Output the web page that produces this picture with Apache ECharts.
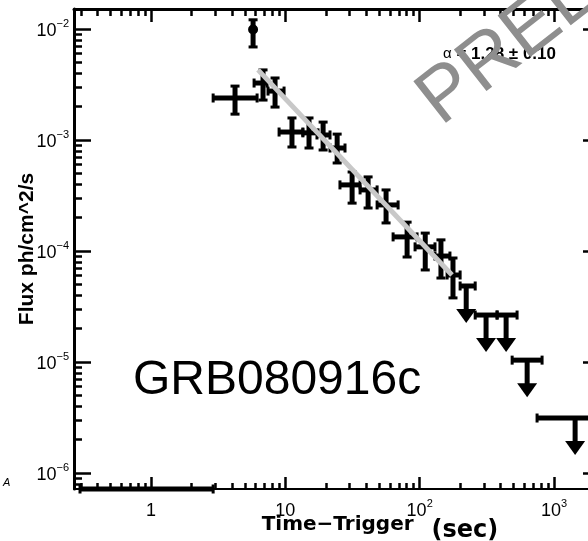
<!DOCTYPE html>
<html>
<head>
<meta charset="utf-8">
<script src="https://cdn.jsdelivr.net/npm/echarts@6/dist/echarts.min.js"></script>
<style>
  html, body { margin: 0; padding: 0; background: #fff; }
  #chart { width: 588px; height: 541px; }
</style>
</head>
<body>
<div id="chart"></div>
<script>
// Detected bins: time since trigger (s) with bin edges, flux (ph/cm^2/s) with 1-sigma range
const detT   = [4.22, 6.82, 8.38, 11.2, 15.0, 19.1, 24.3, 31.4, 41.3, 56.2, 80.6, 110, 144, 177];
const detTLo = [2.90, 5.85, 7.43, 8.98, 13.5, 17.2, 21.5, 25.5, 36.0, 48.2, 63.4, 92.4, 130, 160];
const detTHi = [6.16, 7.31, 9.78, 13.5, 17.5, 21.5, 27.8, 36.0, 48.2, 69.1, 95.6, 130, 168, 200];
const detF   = [2.39e-3, 3.26e-3, 2.76e-3, 1.18e-3, 1.16e-3, 1.11e-3, 8.47e-4, 3.94e-4, 3.55e-4, 2.60e-4, 1.34e-4, 1.09e-4, 9.01e-5, 6.08e-5];
const detFLo = [1.71e-3, 2.29e-3, 1.98e-3, 8.65e-4, 8.47e-4, 8.13e-4, 6.21e-4, 2.70e-4, 2.44e-4, 1.79e-4, 8.83e-5, 6.75e-5, 5.71e-5, 3.78e-5];
const detFHi = [3.06e-3, 4.28e-3, 3.62e-3, 1.58e-3, 1.58e-3, 1.45e-3, 1.13e-3, 5.15e-4, 4.65e-4, 3.55e-4, 1.82e-4, 1.45e-4, 1.26e-4, 8.65e-5];

// Late bins with flux upper limits
const ulT   = [222, 312, 440, 631, 1436];
const ulTLo = [200, 259, 377, 488, 748];
const ulTHi = [259, 377, 531, 815, 2850];
const ulF   = [4.84e-5, 2.65e-5, 2.65e-5, 1.04e-5, 3.13e-6];

// Bright short bin near the prompt peak
const peakT   = [5.75];
const peakF   = [9.9e-3];
const peakFLo = [6.89e-3];
const peakFHi = [1.21e-2];

// Earliest bin: its limit falls below the plotted flux range
const earlyT   = [0.93];
const earlyTLo = [0.296];
const earlyTHi = [2.90];
const earlyF   = [5e-7];

// Power-law decay fit  F(t) = norm * t^-alpha
const fitAlpha    = 1.28;
const fitAlphaErr = 0.10;
const fitNorm     = 0.0448;
const fitRange    = [6.26, 174];

// Axis ticks
const xTickValues = [1, 10, 100, 1000];
const xTickLabels = ['1', '10', '10{e|2}', '10{e|3}'];
const yTickValues = [1e-6, 1e-5, 1e-4, 1e-3, 1e-2];
const yTickLabels = ['10{e|\u22126}', '10{e|\u22125}', '10{e|\u22124}', '10{e|\u22123}', '10{e|\u22122}'];

const X_MIN = 0.267, X_MAX = 2200;
const Y_MIN = 7.18e-7, Y_MAX = 0.01514;

// minor ticks at 2..9 x 10^k inside each range
function minorTicks(lo, hi) {
  const out = [];
  for (let k = Math.floor(Math.log10(lo)); k <= Math.ceil(Math.log10(hi)); k++) {
    for (let m = 2; m <= 9; m++) {
      const v = m * Math.pow(10, k);
      if (v > lo && v < hi) out.push(v);
    }
  }
  return out;
}
const xMinor = minorTicks(X_MIN, X_MAX);
const yMinor = minorTicks(Y_MIN, Y_MAX);

const SANS = '"Liberation Sans", Helvetica, Arial, sans-serif';
const INK = '#000';
const BAR_W = 5, CAP_W = 3, CAP_HALF = 4.5;
const SHAFT = 24, HEAD_HALF = 10, HEAD_TIP = 37;

function seg(x1, y1, x2, y2, w) {
  return { type: 'line', shape: { x1, y1, x2, y2 }, style: { stroke: INK, lineWidth: w, lineCap: 'butt' } };
}

function renderCross(params, api) {
  const t = api.value(0), tLo = api.value(1), tHi = api.value(2);
  const f = api.value(3), fLo = api.value(4), fHi = api.value(5);
  const c = api.coord([t, f]);
  const xl = api.coord([tLo, f])[0], xr = api.coord([tHi, f])[0];
  const yt = api.coord([t, fHi])[1], yb = api.coord([t, fLo])[1];
  return {
    type: 'group',
    children: [
      seg(xl, c[1], xr, c[1], BAR_W),
      seg(c[0], yt, c[0], yb, BAR_W),
      seg(xl, c[1] - CAP_HALF, xl, c[1] + CAP_HALF, CAP_W),
      seg(xr, c[1] - CAP_HALF, xr, c[1] + CAP_HALF, CAP_W),
      seg(c[0] - CAP_HALF, yt, c[0] + CAP_HALF, yt, CAP_W),
      seg(c[0] - CAP_HALF, yb, c[0] + CAP_HALF, yb, CAP_W)
    ]
  };
}

function renderLimit(params, api) {
  const t = api.value(0), tLo = api.value(1), tHi = api.value(2), f = api.value(3);
  const floor = params.coordSys.y + params.coordSys.height;
  const c = api.coord([t, f]);
  const below = c[1] > floor;
  const y = below ? floor : c[1];
  const xl = api.coord([tLo, f])[0], xr = api.coord([tHi, f])[0];
  const children = [
    seg(xl, y, xr, y, BAR_W),
    seg(xl, y - CAP_HALF, xl, y + CAP_HALF, CAP_W),
    seg(xr, y - CAP_HALF, xr, y + CAP_HALF, CAP_W)
  ];
  if (!below) {
    children.push(seg(c[0], y, c[0], y + SHAFT, BAR_W));
    children.push({
      type: 'polygon',
      shape: { points: [[c[0] - HEAD_HALF, y + SHAFT - 1], [c[0] + HEAD_HALF, y + SHAFT - 1], [c[0], y + HEAD_TIP]] },
      style: { fill: INK }
    });
  }
  return { type: 'group', children };
}

function renderPeak(params, api) {
  const t = api.value(0), f = api.value(1), fLo = api.value(2), fHi = api.value(3);
  const c = api.coord([t, f]);
  const yt = api.coord([t, fHi])[1], yb = api.coord([t, fLo])[1];
  return {
    type: 'group',
    children: [
      seg(c[0], yt, c[0], yb, BAR_W),
      seg(c[0] - CAP_HALF, yt, c[0] + CAP_HALF, yt, CAP_W),
      seg(c[0] - CAP_HALF, yb, c[0] + CAP_HALF, yb, CAP_W),
      { type: 'circle', shape: { cx: c[0], cy: c[1], r: 5 }, style: { fill: INK } }
    ]
  };
}

const detRows = detT.map((t, i) => [t, detTLo[i], detTHi[i], detF[i], detFLo[i], detFHi[i]]);
const ulRows = ulT.map((t, i) => [t, ulTLo[i], ulTHi[i], ulF[i]]);
const earlyRows = earlyT.map((t, i) => [t, earlyTLo[i], earlyTHi[i], earlyF[i]]);
const peakRows = peakT.map((t, i) => [t, peakF[i], peakFLo[i], peakFHi[i]]);
const fitRows = fitRange.map(t => [t, fitNorm * Math.pow(t, -fitAlpha)]);

const labelRich = {
  b: { fontFamily: SANS, fontSize: 18, color: INK, lineHeight: 22, verticalAlign: 'bottom' },
  e: { fontFamily: SANS, fontSize: 11, color: INK, lineHeight: 11, verticalAlign: 'top' }
};

// '10{e|2}' -> '{b|10}{e|2}' : base in one style, exponent raised
function richTick(label) {
  const parts = label.split('{e|');
  return '{b|' + parts[0] + '}' + (parts.length > 1 ? '{e|' + parts[1] : '');
}
function tickText(values, labels, v) {
  const i = values.findIndex(u => Math.abs(u - v) / u < 1e-6);
  return i < 0 ? '' : richTick(labels[i]);
}

function xAxisDef(pos, ticks, len, withLine, withLabels) {
  return {
    type: 'log', logBase: 10, position: pos, min: X_MIN, max: X_MAX,
    axisLine: { show: withLine, onZero: false, lineStyle: { color: INK, width: pos === 'top' ? 3 : 2 } },
    axisTick: { show: true, inside: true, length: len, customValues: ticks, lineStyle: { color: INK, width: 2.5 } },
    axisLabel: withLabels ? {
      show: true, margin: 9, customValues: xTickValues,
      formatter: v => tickText(xTickValues, xTickLabels, v),
      rich: labelRich
    } : { show: false },
    minorTick: { show: false }, splitLine: { show: false }, minorSplitLine: { show: false }
  };
}

function yAxisDef(pos, ticks, len, withLine, withLabels) {
  return {
    type: 'log', logBase: 10, position: pos, min: Y_MIN, max: Y_MAX,
    axisLine: { show: withLine, onZero: false, lineStyle: { color: INK, width: 3 } },
    axisTick: { show: true, inside: true, length: len, customValues: ticks, lineStyle: { color: INK, width: 2.5 } },
    axisLabel: withLabels ? {
      show: true, margin: 5, customValues: yTickValues,
      formatter: v => tickText(yTickValues, yTickLabels, v),
      rich: labelRich
    } : { show: false },
    minorTick: { show: false }, splitLine: { show: false }, minorSplitLine: { show: false }
  };
}

const xMain = xAxisDef('bottom', xTickValues, 12, true, true);
xMain.name = '{a|Time\u2212Trigger}{s|(sec)}';
xMain.nameLocation = 'middle';
xMain.nameGap = 26;
xMain.nameMoveOverlap = false;
xMain.nameTextStyle = {
  padding: [0, 0, 0, 86],
  rich: {
    a: { fontFamily: '"DejaVu Sans"', fontWeight: 'bold', fontSize: 20, color: INK, lineHeight: 16, verticalAlign: 'top' },
    s: { fontFamily: '"DejaVu Sans"', fontWeight: 'bold', fontSize: 24, color: INK, lineHeight: 28, verticalAlign: 'bottom', padding: [0, 0, 0, 18] }
  }
};

const yMain = yAxisDef('left', yTickValues, 17, true, true);
yMain.name = 'Flux ph/cm^2/s';
yMain.nameLocation = 'middle';
yMain.nameGap = 36;
yMain.nameMoveOverlap = false;
yMain.nameTextStyle = { fontFamily: SANS, fontWeight: 'bold', fontSize: 21, color: INK };

const option = {
  animation: false,
  backgroundColor: '#fff',
  grid: { left: 74, top: 9, right: -12, bottom: 52, containLabel: false, outerBoundsMode: 'none' },
  xAxis: [
    xMain,
    xAxisDef('bottom', xMinor, 6, false, false),
    xAxisDef('top', xTickValues, 13, true, false),
    xAxisDef('top', xMinor, 7, false, false)
  ],
  yAxis: [
    yMain,
    yAxisDef('left', yMinor, 8, false, false),
    yAxisDef('right', yTickValues, 17, true, false),
    yAxisDef('right', yMinor, 8, false, false)
  ],
  series: [
    { type: 'custom', name: 'detections', xAxisIndex: 0, yAxisIndex: 0, renderItem: renderCross, data: detRows, encode: { x: 0, y: 3 } },
    { type: 'custom', name: 'upper limits', xAxisIndex: 0, yAxisIndex: 0, renderItem: renderLimit, data: ulRows, encode: { x: 0, y: 3 } },
    { type: 'custom', name: 'early bin', xAxisIndex: 0, yAxisIndex: 0, renderItem: renderLimit, data: earlyRows, encode: { x: 0, y: 3 } },
    { type: 'custom', name: 'peak', xAxisIndex: 0, yAxisIndex: 0, renderItem: renderPeak, data: peakRows, encode: { x: 0, y: 1 } },
    {
      type: 'line', name: 'fit', xAxisIndex: 0, yAxisIndex: 0, data: fitRows,
      showSymbol: false, symbol: 'none', silent: true, z: 5,
      lineStyle: { color: '#c8c8c8', width: 5, cap: 'butt' }
    }
  ],
  graphic: [
    {
      type: 'text', x: 133, y: 381, z: 20,
      style: { text: 'GRB080916c', font: '48px ' + SANS, fill: INK, align: 'left', verticalAlign: 'middle' }
    },
    {
      type: 'text', x: 443, y: 54, z: 20,
      style: {
        text: '{g|\u03b1} = ' + fitAlpha.toFixed(2) + ' \u00b1 ' + fitAlphaErr.toFixed(2),
        font: 'bold 17px ' + SANS, fill: INK, align: 'left', verticalAlign: 'middle',
        rich: { g: { font: '15px ' + SANS, fill: INK } }
      }
    },
    {
      type: 'text', x: 428, y: 110, z: 21, rotation: 38 * Math.PI / 180,
      style: { text: 'PRELIMINARY', font: '77px ' + SANS, fill: '#8e8e8e', align: 'left', verticalAlign: 'middle' }
    },
    {
      type: 'text', x: 3, y: 483, z: 20,
      style: { text: 'A', font: 'italic 11px ' + SANS, fill: INK, align: 'left', verticalAlign: 'middle' }
    }
  ]
};

const chart = echarts.init(document.getElementById('chart'), null, { renderer: 'canvas' });
chart.setOption(option);
</script>
</body>
</html>
